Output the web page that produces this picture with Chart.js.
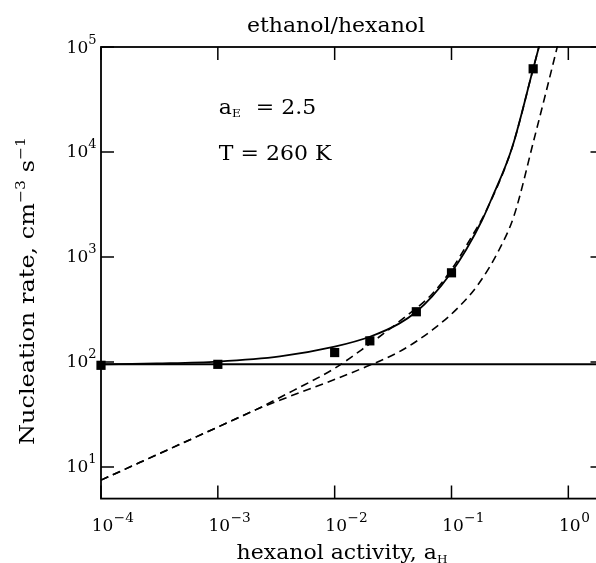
<!DOCTYPE html>
<html>
<head>
<meta charset="utf-8">
<script src="https://cdn.jsdelivr.net/npm/chart.js@4/dist/chart.umd.min.js"></script>
<style>
html,body{margin:0;padding:0;background:#fff;overflow:hidden;width:596px;height:563px}
canvas{display:block}
</style>
</head>
<body>
<canvas id="c" width="610" height="563"></canvas>
<script>
// ---- axis ranges & ticks ----
const xMin = 1e-4, xMax = 2;
const yMin = 5, yMax = 1e5;
const xTickValues = [1e-4, 1e-3, 1e-2, 1e-1, 1];
const xTickExponents = ['\u22124', '\u22123', '\u22122', '\u22121', '0'];
const yTickValues = [1e1, 1e2, 1e3, 1e4, 1e5];
const yTickExponents = ['1', '2', '3', '4', '5'];

// ---- measured points (squares) ----
const measuredX = [1e-4, 1e-3, 0.01, 0.02, 0.05, 0.1, 0.5];
const measuredRate = [93, 95, 123, 159, 301, 707, 62000];

// ---- pure-ethanol rate (horizontal line) ----
const pureX = [1e-4, 2];
const pureRate = [95, 95];

// ---- solid theory curve ----
const solidX = [1e-4, 3e-4, 1e-3, 3.4e-3, 0.01, 0.02, 0.0356, 0.05, 0.068, 0.1, 0.133, 0.183, 0.218, 0.33, 0.5, 0.56, 0.6];
const solidRate = [95, 97, 101, 113, 140, 174, 232, 301, 419, 716, 1165, 2250, 3490, 11000, 62000, 100000, 135000];

// ---- upper dashed curve ----
const dashAX = [1e-4, 1e-3, 0.0021, 0.0045, 0.01, 0.0185, 0.0356, 0.0686, 0.1, 0.15, 0.196, 0.33, 0.5, 0.56, 0.6];
const dashARate = [7.5, 24, 35, 54, 87, 140, 242, 447, 760, 1585, 2690, 11000, 62000, 100000, 135000];

// ---- lower dashed curve ----
const dashBX = [1e-4, 1e-3, 0.0021, 0.005, 0.0096, 0.0185, 0.0356, 0.0686, 0.116, 0.172, 0.255, 0.342, 0.507, 0.80, 0.89];
const dashBRate = [7.5, 24, 35, 51, 67, 90, 125, 202, 336, 562, 1166, 2450, 13000, 98000, 160000];

const pts = (xs, ys) => xs.map((x, i) => ({x: x, y: ys[i]}));

const FONT = '"DejaVu Serif", serif';
function runsWidth(ctx, runs, stretch) {
  let w = 0;
  for (const r of runs) { ctx.font = r.size + 'px ' + FONT; w += ctx.measureText(r.t).width * stretch; }
  return w;
}
function drawRuns(ctx, runs, x, y, stretch, align) {
  const w = runsWidth(ctx, runs, stretch);
  let cx = align === 'center' ? x - w / 2 : (align === 'right' ? x - w : x);
  for (const r of runs) {
    ctx.font = r.size + 'px ' + FONT;
    ctx.save();
    ctx.translate(cx, y + (r.dy || 0));
    ctx.scale(stretch, 1);
    ctx.fillText(r.t, 0, 0);
    ctx.restore();
    cx += ctx.measureText(r.t).width * stretch;
  }
  return w;
}

const framePlugin = {
  id: 'frame',
  afterDatasetsDraw(chart) {
    const ctx = chart.ctx, a = chart.chartArea;
    const xs = chart.scales.x, ys = chart.scales.y;
    ctx.save();
    ctx.strokeStyle = '#000';
    ctx.fillStyle = '#000';
    ctx.lineWidth = 1.8;
    ctx.strokeRect(a.left, a.top, a.right - a.left, a.bottom - a.top);
    ctx.lineWidth = 1.5;
    const tl = 13;
    ctx.beginPath();
    xTickValues.forEach(v => {
      const p = xs.getPixelForValue(v);
      ctx.moveTo(p, a.bottom); ctx.lineTo(p, a.bottom - tl);
      ctx.moveTo(p, a.top); ctx.lineTo(p, a.top + tl);
    });
    yTickValues.forEach(v => {
      const p = ys.getPixelForValue(v);
      ctx.moveTo(a.left, p); ctx.lineTo(a.left + tl, p);
      ctx.moveTo(a.right, p); ctx.lineTo(a.right - tl, p);
    });
    ctx.stroke();

    ctx.textBaseline = 'alphabetic';
    ctx.textAlign = 'left';
    // x tick labels
    ctx.font = '17px ' + FONT;
    const w10 = ctx.measureText('10').width;
    xTickValues.forEach((v, i) => {
      const p = xs.getPixelForValue(v) + 1.5;
      drawRuns(ctx, [{t: '10', size: 17}], p - w10 / 2, a.bottom + 32, 1, 'left');
      drawRuns(ctx, [{t: xTickExponents[i], size: 13}], p + w10 / 2 + 0.5, a.bottom + 23.5, 1.05, 'left');
    });
    // y tick labels
    yTickValues.forEach((v, i) => {
      const p = ys.getPixelForValue(v);
      drawRuns(ctx, [{t: '10', size: 17}, {t: yTickExponents[i], size: 13, dy: -9}], a.left - 4.5, p + 5.5, 1, 'right');
    });

    // title
    drawRuns(ctx, [{t: 'ethanol/hexanol', size: 20}], 336, 32, 1.1, 'center');
    // x axis title
    drawRuns(ctx, [{t: 'hexanol activity, a', size: 20}, {t: 'H', size: 11, dy: 4}], 342, 559, 1.1, 'center');
    // y axis title
    ctx.save();
    ctx.translate(34, 291);
    ctx.rotate(-Math.PI / 2);
    drawRuns(ctx, [{t: 'Nucleation rate, cm', size: 20}, {t: '\u22123', size: 13, dy: -9}, {t: ' s', size: 20}, {t: '\u22121', size: 13, dy: -9}], 0, 0, 1.2, 'center');
    ctx.restore();
    // annotations
    const ax = xs.getPixelForValue(1e-3) + 1;
    const ay1 = ys.getPixelForValue(2.3e4);
    const ay2 = ys.getPixelForValue(8.4e3);
    drawRuns(ctx, [{t: 'a', size: 20}, {t: 'E', size: 11, dy: 3}], ax, ay1, 1.1, 'left');
    drawRuns(ctx, [{t: '= 2.5', size: 20}], ax + 37, ay1, 1.1, 'left');
    drawRuns(ctx, [{t: 'T = 260 K', size: 20}], ax, ay2, 1.1, 'left');
    ctx.restore();
  }
};

const lineBase = {showLine: true, pointRadius: 0, borderColor: '#000', backgroundColor: '#000', cubicInterpolationMode: 'monotone', clip: 1};

new Chart(document.getElementById('c'), {
  type: 'scatter',
  data: {
    datasets: [
      Object.assign({}, lineBase, {data: pts(pureX, pureRate), borderWidth: 2}),
      Object.assign({}, lineBase, {data: pts(dashBX, dashBRate), borderWidth: 1.6, borderDash: [8, 5]}),
      Object.assign({}, lineBase, {data: pts(dashAX, dashARate), borderWidth: 1.6, borderDash: [8, 5]}),
      Object.assign({}, lineBase, {data: pts(solidX, solidRate), borderWidth: 1.8}),
      {data: pts(measuredX, measuredRate), showLine: false, pointStyle: 'rect', pointRadius: 6.5, borderWidth: 0, backgroundColor: '#000', borderColor: '#000', clip: false}
    ]
  },
  options: {
    responsive: false,
    animation: false,
    devicePixelRatio: 1,
    layout: {padding: {left: 101, top: 47, right: 5.3, bottom: 64.4}},
    plugins: {legend: {display: false}, tooltip: {enabled: false}, title: {display: false}},
    scales: {
      x: {type: 'logarithmic', min: xMin, max: xMax, display: false},
      y: {type: 'logarithmic', min: yMin, max: yMax, display: false}
    }
  },
  plugins: [framePlugin]
});
</script>
</body>
</html>
